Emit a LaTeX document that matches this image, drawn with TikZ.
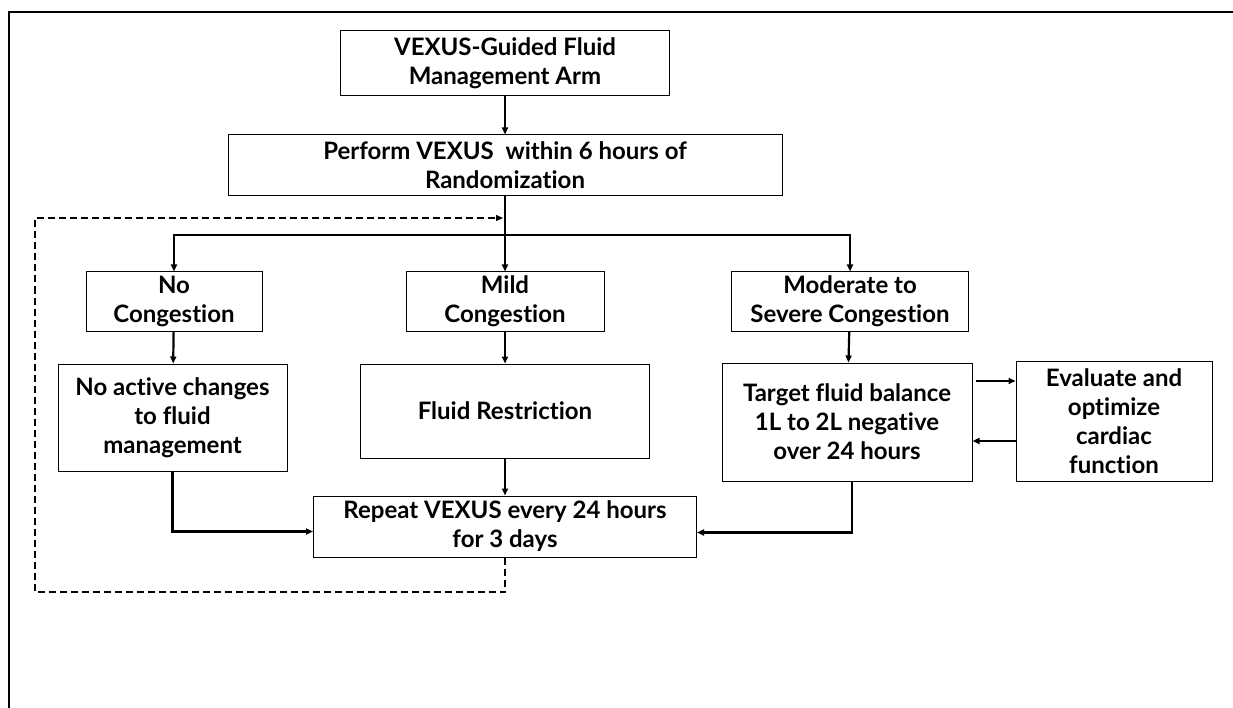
\documentclass[tikz,border=0pt]{standalone}
\usepackage{fontspec}
\setmainfont{Lato}[Ligatures=NoCommon]
\usetikzlibrary{arrows.meta, positioning}
\tikzset{
	boxnode/.style={
			draw=black,
			line width=1pt,
			fill=white,
			align=center,
			inner sep=2pt,
			font=\fontsize{24}{29}\selectfont\bfseries
		},
	flowline/.style={
			line width=2.2pt,
			-{Triangle[length=7pt,width=6pt]}
		},
	loopline/.style={
			line width=1.2pt,
			dash pattern=on 7pt off 4pt,
			-{Triangle[length=7pt,width=6pt]}
		}
}

\begin{document}
\begin{tikzpicture}[x=1pt, y=-1pt]

\useasboundingbox (0,0) rectangle (1233,708);
\draw[line width=2pt] (9,708) -- (9,12) -- (1233,12);

\node[boxnode, minimum width=329pt, minimum height=65pt] (arm) at (505,63.5) {VEXUS-Guided Fluid\\Management Arm};
\node[boxnode, minimum width=554pt, minimum height=61pt] (perform) at (505,165.5) {Perform VEXUS\ \ within 6 hours of\\Randomization};

\node[boxnode, minimum width=176pt, minimum height=59pt] (nocong) at (174,301.5) {No\\Congestion};
\node[boxnode, minimum width=198pt, minimum height=59pt] (mild) at (505,301.5) {Mild\\Congestion};
\node[boxnode, minimum width=237pt, minimum height=59pt] (modsev) at (850,301.5) {Moderate to\\Severe Congestion};

\node[boxnode, minimum width=229pt, minimum height=107pt] (noact) at (172.5,417.5) {No active changes\\to fluid\\management};
\node[boxnode, minimum width=289pt, minimum height=94pt] (restr) at (505,411) {Fluid Restriction};
\node[boxnode, minimum width=250pt, minimum height=118pt] (target) at (847,422) {Target fluid balance\\1L to 2L negative\\over 24 hours};
\node[boxnode, minimum width=196pt, minimum height=120pt] (evalc) at (1114,421) {Evaluate and\\optimize\\cardiac\\function};

\node[boxnode, minimum width=383pt, minimum height=61pt] (repeat) at (505,526.5) {Repeat VEXUS every 24 hours\\for 3 days};

\coordinate (split) at (505,235);
\coordinate (loopbl) at (35,592);
\coordinate (looptl) at (35,218);
\coordinate (back) at (503,218);

\draw[flowline] (arm) -- (perform);
\draw[flowline] (perform) -- (mild);
\draw[flowline] (split) -| (nocong);
\draw[flowline] (split) -| (modsev);
\draw[flowline] (nocong) -- (noact);
\draw[flowline] (mild) -- (restr);
\draw[flowline] (modsev) -- (target);
\draw[flowline, shorten <=3pt] ([yshift=41pt]target.east) -- ([yshift=40pt]evalc.west);
\draw[flowline] ([yshift=-20pt]evalc.west) -- ([yshift=-19pt]target.east);
\draw[flowline] (noact.south) |- ([yshift=-5pt]repeat.west);
\draw[flowline] (restr) -- (repeat);
\draw[flowline] ([xshift=5pt]target.south) |- ([yshift=-6pt]repeat.east);
\draw[loopline] (repeat.south) |- (loopbl) -- (looptl) -- (back);

\end{tikzpicture}
\end{document}
